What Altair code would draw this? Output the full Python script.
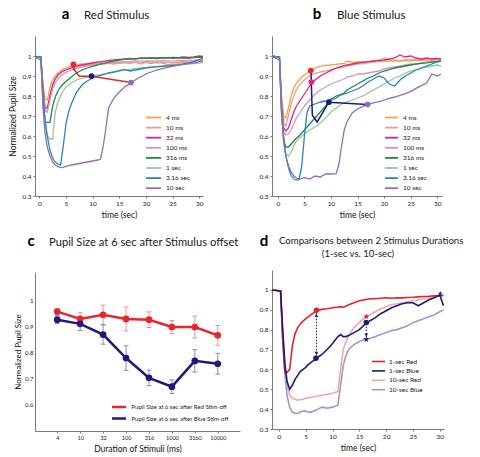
import altair as alt
import pandas as pd

FONT = "Lato"
RED = "#e8262b"
NAVY = "#1d1b7a"
PURPLE = "#8a6fbd"
STAR = ("M0,-1L0.2245,-0.309L0.951,-0.309L0.363,0.118L0.588,0.809L0,0.382L-0.588,0.809"
        "L-0.363,0.118L-0.951,-0.309L-0.2245,-0.309Z")

# ---------------- shared time grid (sec) ----------------
T = [-1.5, 0.3, 0.7, 1.1, 1.5, 2, 2.5, 3, 3.5, 4, 4.5, 5, 5.5,
     6, 7, 8, 9, 10, 11, 11.5, 12, 12.5,
     13, 14, 15, 16, 17, 18, 19, 20, 21, 22, 23, 24, 25, 26, 27, 28, 29, 30, 30.7]

DURATIONS = ["4 ms", "10 ms", "32 ms", "100 ms", "316 ms", "1 sec", "3.16 sec", "10 sec"]
DUR_COLORS = ["#f2a23c", "#d9a596", "#e8237c", "#cf97c6", "#1e8a45", "#98c695", "#2a86b6", "#8a6fbd"]

# ---------------- panel a : red stimulus ----------------
A_4MS = [1.0, 0.995, 0.86, 0.785, 0.78, 0.84, 0.88, 0.90, 0.915, 0.925, 0.935, 0.94, 0.945,
         0.95, 0.957, 0.96, 0.962, 0.965, 0.962, 0.965, 0.96, 0.963,
         0.965, 0.96, 0.965, 0.968, 0.962, 0.97, 0.96, 0.968, 0.962, 0.97, 0.965, 0.958, 0.955, 0.962, 0.968, 0.965, 0.972, 0.978, 0.975]
A_10MS = [1.0, 0.995, 0.83, 0.725, 0.72, 0.80, 0.855, 0.885, 0.905, 0.92, 0.93, 0.935, 0.94,
          0.945, 0.95, 0.952, 0.955, 0.958, 0.96, 0.962, 0.96, 0.963,
          0.962, 0.965, 0.963, 0.967, 0.965, 0.968, 0.966, 0.97, 0.968, 0.965, 0.97, 0.968, 0.965, 0.97, 0.972, 0.968, 0.975, 0.978, 0.972]
A_32MS = [1.0, 0.995, 0.84, 0.74, 0.74, 0.80, 0.855, 0.885, 0.905, 0.915, 0.925, 0.93, 0.935,
          0.94, 0.948, 0.955, 0.96, 0.965, 0.97, 0.97, 0.973, 0.975,
          0.978, 0.98, 0.983, 0.985, 0.988, 0.985, 0.99, 0.988, 0.99, 0.987, 0.99, 0.992, 0.988, 0.99, 0.99, 0.988, 0.992, 0.995, 0.99]
A_100MS = [1.0, 0.995, 0.82, 0.725, 0.72, 0.78, 0.835, 0.865, 0.885, 0.90, 0.91, 0.918, 0.925,
           0.93, 0.938, 0.944, 0.95, 0.955, 0.958, 0.96, 0.962, 0.964,
           0.966, 0.968, 0.97, 0.972, 0.973, 0.975, 0.974, 0.976, 0.975, 0.974, 0.977, 0.976, 0.974, 0.977, 0.978, 0.976, 0.979, 0.982, 0.98]
A_316MS = [1.0, 0.995, 0.79, 0.67, 0.668, 0.668, 0.75, 0.795, 0.825, 0.845, 0.86, 0.872, 0.884,
           0.895, 0.915, 0.93, 0.94, 0.948, 0.955, 0.96, 0.963, 0.966,
           0.97, 0.975, 0.98, 0.983, 0.985, 0.987, 0.988, 0.99, 0.99, 0.99, 0.992, 0.99, 0.993, 0.992, 0.995, 0.993, 0.996, 1.0, 0.998]
A_1SEC = [1.0, 0.995, 0.78, 0.66, 0.60, 0.585, 0.585, 0.72, 0.77, 0.80, 0.825, 0.845, 0.855,
          0.865, 0.88, 0.888, 0.895, 0.90, 0.905, 0.907, 0.91, 0.912,
          0.915, 0.92, 0.925, 0.93, 0.933, 0.937, 0.94, 0.943, 0.946, 0.948, 0.95, 0.952, 0.954, 0.956, 0.958, 0.96, 0.962, 0.965, 0.968]
A_3SEC = [1.0, 0.995, 0.80, 0.68, 0.60, 0.53, 0.49, 0.47, 0.46, 0.455, 0.55, 0.66, 0.72,
          0.76, 0.82, 0.855, 0.875, 0.89, 0.90, 0.903, 0.907, 0.91,
          0.915, 0.92, 0.927, 0.932, 0.925, 0.93, 0.935, 0.94, 0.943, 0.946, 0.948, 0.95, 0.953, 0.956, 0.96, 0.965, 0.972, 0.982, 0.99]
A_10SEC = [1.0, 0.98, 0.74, 0.61, 0.545, 0.50, 0.47, 0.455, 0.447, 0.442, 0.443, 0.448, 0.452,
           0.455, 0.46, 0.465, 0.47, 0.475, 0.48, 0.485, 0.55, 0.64,
           0.74, 0.79, 0.82, 0.845, 0.862, 0.88, 0.895, 0.91, 0.92, 0.93, 0.937, 0.943, 0.948, 0.953, 0.958, 0.962, 0.966, 0.972, 0.976]

# ---------------- panel b : blue stimulus ----------------
B_4MS = [1.0, 0.995, 0.80, 0.70, 0.69, 0.74, 0.80, 0.84, 0.865, 0.88, 0.895, 0.905, 0.915,
         0.922, 0.94, 0.948, 0.953, 0.956, 0.958, 0.96, 0.962, 0.963,
         0.975, 0.968, 0.97, 0.972, 0.97, 0.973, 0.972, 0.975, 0.974, 0.976, 0.975, 0.977, 0.976, 0.978, 0.977, 0.979, 0.98, 0.98, 0.98]
B_10MS = [1.0, 0.995, 0.78, 0.665, 0.65, 0.70, 0.76, 0.80, 0.83, 0.853, 0.868, 0.88, 0.89,
          0.90, 0.912, 0.92, 0.926, 0.932, 0.938, 0.94, 0.943, 0.946,
          0.95, 0.955, 0.96, 0.962, 0.966, 0.97, 0.975, 0.99, 0.978, 0.98, 0.976, 0.982, 0.98, 0.985, 0.98, 0.984, 0.985, 0.988, 0.982]
B_32MS = [1.0, 0.995, 0.76, 0.64, 0.625, 0.64, 0.68, 0.72, 0.75, 0.77, 0.79, 0.81, 0.83,
          0.85, 0.88, 0.90, 0.915, 0.928, 0.94, 0.944, 0.948, 0.952,
          0.955, 0.96, 0.965, 0.968, 0.972, 0.975, 0.978, 0.98, 0.985, 0.99, 1.005, 0.995, 1.0, 0.99, 0.985, 0.99, 0.985, 0.988, 0.985]
B_100MS = [1.0, 0.995, 0.74, 0.62, 0.605, 0.61, 0.63, 0.66, 0.69, 0.71, 0.73, 0.75, 0.765,
           0.78, 0.81, 0.83, 0.845, 0.86, 0.87, 0.875, 0.88, 0.885,
           0.895, 0.90, 0.91, 0.91, 0.915, 0.92, 0.925, 0.935, 0.94, 0.945, 0.95, 0.955, 0.96, 0.96, 0.965, 0.97, 0.97, 0.975, 0.975]
B_316MS = [1.0, 0.995, 0.72, 0.58, 0.545, 0.545, 0.56, 0.575, 0.59, 0.60, 0.615, 0.63, 0.645,
           0.66, 0.69, 0.72, 0.75, 0.785, 0.80, 0.805, 0.81, 0.815,
           0.83, 0.845, 0.86, 0.875, 0.89, 0.90, 0.915, 0.925, 0.932, 0.94, 0.945, 0.95, 0.955, 0.96, 0.963, 0.966, 0.97, 0.972, 0.975]
B_1SEC = [1.0, 0.995, 0.70, 0.56, 0.51, 0.50, 0.52, 0.55, 0.575, 0.59, 0.60, 0.61, 0.62,
          0.63, 0.645, 0.665, 0.69, 0.72, 0.74, 0.75, 0.76, 0.765,
          0.77, 0.78, 0.79, 0.80, 0.815, 0.83, 0.845, 0.86, 0.875, 0.89, 0.90, 0.915, 0.925, 0.93, 0.94, 0.945, 0.95, 0.955, 0.95]
B_3SEC = [1.0, 0.995, 0.72, 0.58, 0.50, 0.45, 0.42, 0.40, 0.39, 0.385, 0.45, 0.60, 0.72,
          0.75, 0.76, 0.77, 0.775, 0.78, 0.79, 0.80, 0.805, 0.81,
          0.815, 0.825, 0.835, 0.85, 0.87, 0.885, 0.90, 0.89, 0.86, 0.85, 0.88, 0.90, 0.915, 0.93, 0.94, 0.95, 0.96, 0.97, 0.975]
B_10SEC = [1.0, 0.98, 0.74, 0.60, 0.50, 0.44, 0.40, 0.385, 0.38, 0.382, 0.388, 0.392, 0.388,
           0.385, 0.40, 0.395, 0.41, 0.41, 0.412, 0.46, 0.55, 0.63,
           0.67, 0.715, 0.735, 0.748, 0.758, 0.766, 0.772, 0.78, 0.788, 0.795, 0.803, 0.812, 0.822, 0.838, 0.852, 0.865, 0.91, 0.90, 0.91]

# ---------------- panel c : pupil size at 6 s after offset ----------------
DUR_TICKS = ["4", "10", "32", "100", "316", "1000", "3160", "10000"]
RED_AT6 = [0.958, 0.930, 0.946, 0.930, 0.927, 0.899, 0.899, 0.867]
BLUE_AT6 = [0.927, 0.911, 0.870, 0.780, 0.704, 0.670, 0.769, 0.758]
RED_ERR = [0.012, 0.025, 0.037, 0.046, 0.030, 0.025, 0.042, 0.038]
BLUE_ERR = [0.015, 0.025, 0.037, 0.047, 0.030, 0.026, 0.043, 0.040]
C_SERIES = ["Pupil Size at 6 sec after Red Stim-off", "Pupil Size at 6 sec after Blue Stim-off"]

A_LINK_T = [6.4, 6.45, 6.5, 6.55, 6.7, 7.5, 9.8, 17.2]
B_LINK_T = [6.2, 6.25, 6.3, 6.4, 6.5, 7.4, 9.6, 16.9]
A_MARK_T = [6.4, 9.8, 17.2]
A_MARK_V = [0.958, 0.899, 0.867]
A_MARK_COL = [RED, NAVY, PURPLE]
B_MARK_T = [6.2, 6.3, 9.6, 16.9]
B_MARK_V = [0.927, 0.870, 0.769, 0.758]
B_MARK_COL = [RED, "#e8237c", NAVY, PURPLE]

# ---------------- panel d : 1-sec vs 10-sec ----------------
D_SERIES = ["1-sec Red", "1-sec Blue", "10-sec Red", "10-sec Blue"]
D_COLORS = ["#e3232b", "#1c1c78", "#f4a6a6", "#9b9bd0"]
D_WIDTHS = [1.6, 1.6, 3.6, 3.6]
D_1S_RED = [1.0, 0.995, 0.75, 0.585, 0.585, 0.60, 0.72, 0.78, 0.81, 0.83, 0.843, 0.855, 0.865,
            0.875, 0.895, 0.902, 0.905, 0.91, 0.913, 0.915, 0.913, 0.918,
            0.925, 0.935, 0.945, 0.95, 0.955, 0.955, 0.958, 0.96, 0.958, 0.96, 0.96, 0.962, 0.963, 0.965, 0.967, 0.968, 0.97, 0.97, 0.972]
D_1S_BLUE = [1.0, 0.995, 0.80, 0.63, 0.54, 0.50, 0.52, 0.55, 0.57, 0.59, 0.60, 0.61, 0.625,
             0.635, 0.655, 0.675, 0.70, 0.73, 0.765, 0.775, 0.765, 0.765,
             0.77, 0.785, 0.80, 0.825, 0.845, 0.86, 0.88, 0.895, 0.91, 0.92, 0.93, 0.935, 0.935, 0.92, 0.935, 0.95, 0.96, 0.975, 0.92]
D_10S_RED = [1.0, 0.995, 0.78, 0.62, 0.52, 0.47, 0.455, 0.45, 0.445, 0.448, 0.45, 0.455, 0.458,
             0.46, 0.465, 0.47, 0.475, 0.48, 0.488, 0.60, 0.70, 0.74,
             0.77, 0.81, 0.835, 0.86, 0.875, 0.89, 0.905, 0.915, 0.925, 0.93, 0.935, 0.94, 0.945, 0.95, 0.955, 0.96, 0.965, 0.97, 0.975]
D_10S_BLUE = [1.0, 0.995, 0.75, 0.58, 0.47, 0.41, 0.385, 0.38, 0.378, 0.385, 0.39, 0.39, 0.385,
              0.385, 0.395, 0.41, 0.405, 0.41, 0.42, 0.52, 0.62, 0.67,
              0.70, 0.725, 0.74, 0.75, 0.755, 0.765, 0.775, 0.785, 0.795, 0.80, 0.81, 0.82, 0.835, 0.845, 0.855, 0.865, 0.875, 0.89, 0.90]
D_MARK_T = [7.0, 6.9, 16.3, 16.3, 16.3, 30.1]
D_MARK_V = [0.898, 0.656, 0.866, 0.836, 0.751, 0.982]
D_MARK_COL = ["#e3232b", "#1c1c78", "#e3232b", "#1c1c78", "#1c1c78", "#1c1c78"]
D_MARK_SHAPE = ["circle", "circle", STAR, "circle", STAR, STAR]
D_MARK_SIZE = [30, 30, 45, 30, 45, 28]
D_ARROW_T = [7.0, 16.3]
D_ARROW_TOP = [0.885, 0.83]
D_ARROW_BOT = [0.668, 0.762]
D_HEAD_T = [7.0, 7.0, 16.3]
D_HEAD_V = [0.872, 0.68, 0.772]
D_HEAD_SHAPE = ["triangle-up", "triangle-down", "triangle-down"]

TIME_TICKS = [0, 5, 10, 15, 20, 25, 30]
PUPIL_TICKS = [0.3, 0.4, 0.5, 0.6, 0.7, 0.8, 0.9, 1.0]

H_TOP = 160   # plot height, panels a/b
H_BOT = 159   # plot height, panels c/d


def long_df(names, series):
    rows = []
    for n, vals in zip(names, series):
        for t, v in zip(T, vals):
            rows.append({"t": t, "v": v, "s": n})
    return pd.DataFrame(rows)


def text_layer(txt, x, y, size, bold=False, align="left"):
    return alt.Chart(pd.DataFrame({"lab": [txt]})).mark_text(
        font=FONT, fontSize=size, fontWeight="bold" if bold else "normal", align=align,
        baseline="alphabetic", color="#000" if bold else "#1a1a1a"
    ).encode(text="lab:N", x=alt.value(x), y=alt.value(y))


def time_panel(series, link_t, link_v, link_col, mk_t, mk_v, mk_col, xdom, w, title, dx,
               letter, letter_x, leg_x, leg_path, leg_off, ytitle):
    x_axis = alt.Axis(values=TIME_TICKS, title="time (sec)", titlePadding=4)
    y_axis = alt.Axis(values=PUPIL_TICKS, format="~g", title=ytitle, labelPadding=2, titlePadding=4)
    xs = alt.Scale(domain=xdom, nice=False, zero=False)
    ys = alt.Scale(domain=[0.3, 1.1], nice=False, zero=False)
    X = alt.X("t:Q", scale=xs, axis=x_axis)
    Y = alt.Y("v:Q", scale=ys, axis=y_axis)
    legend = alt.Legend(title=None, orient="none", legendX=leg_x, legendY=76, symbolType=leg_path,
                        symbolSize=81, symbolStrokeWidth=1.8, labelOffset=leg_off, rowPadding=0.1,
                        labelFontSize=6.5, padding=0)
    lines = alt.Chart(long_df(DURATIONS, series)).mark_line(strokeWidth=1.3, clip=True).encode(
        x=X, y=Y,
        color=alt.Color("s:N", scale=alt.Scale(domain=DURATIONS, range=DUR_COLORS), legend=legend))
    link = alt.Chart(pd.DataFrame({"t": link_t, "v": link_v, "i": list(range(len(link_t)))})).mark_line(
        color=link_col, strokeWidth=1.5).encode(x=X, y=Y, order="i:Q")
    marks = alt.Chart(pd.DataFrame({"t": mk_t, "v": mk_v, "c": mk_col})).mark_point(
        filled=True, size=32, opacity=1).encode(x=X, y=Y, fill=alt.Fill("c:N", scale=None))
    return alt.layer(lines, link, marks,
                     text_layer(letter, letter_x, -17, 15, bold=True, align="center"),
                     text_layer(title, dx, -17, 11.5)).properties(width=w, height=H_TOP)


panel_a = time_panel([A_4MS, A_10MS, A_32MS, A_100MS, A_316MS, A_1SEC, A_3SEC, A_10SEC],
                     A_LINK_T, RED_AT6, RED, A_MARK_T, A_MARK_V, A_MARK_COL,
                     [-0.8, 30.7], 168, "Red Stimulus", 49, "a", 30.5, 113, "M-1.667,0H1.667", 7,
                     "Normalized Pupil Size")
panel_b = time_panel([B_4MS, B_10MS, B_32MS, B_100MS, B_316MS, B_1SEC, B_3SEC, B_10SEC],
                     B_LINK_T, BLUE_AT6, NAVY, B_MARK_T, B_MARK_V, B_MARK_COL,
                     [-1.1, 30.9], 170, "Blue Stimulus", 65, "b", 45, 114, "M-1.444,0H1.444", 6,
                     None)

# ---------------- panel c ----------------
c_df = pd.DataFrame({
    "dur": DUR_TICKS + DUR_TICKS,
    "v": RED_AT6 + BLUE_AT6,
    "err": RED_ERR + BLUE_ERR,
    "s": [C_SERIES[0]] * 8 + [C_SERIES[1]] * 8,
    "i": list(range(8)) * 2,
})
c_df["lo"] = c_df["v"] - c_df["err"]
c_df["hi"] = c_df["v"] + c_df["err"]

cx = alt.X("dur:N", sort=DUR_TICKS, scale=alt.Scale(type="point", padding=0.97),
           axis=alt.Axis(title="Duration of Stimuli (ms)", labelAngle=0, labelFontSize=5.5, titlePadding=4))
c_yscale = alt.Scale(domain=[0.5, 1.11], nice=False, zero=False)
c_yaxis = alt.Axis(values=[0.6, 0.7, 0.8, 0.9, 1.0], format="~g", title="Normalized Pupil Size",
                   ticks=False, labelPadding=2, titlePadding=2, labelFontSize=6, titleFontSize=8)


def cy(field):
    return alt.Y(field + ":Q", scale=c_yscale, axis=c_yaxis)


c_legend = alt.Legend(title=None, orient="none", legendX=78, legendY=129, symbolType="M-1.55,0H1.55",
                      symbolSize=81, symbolStrokeWidth=2.5, labelOffset=6.5, rowPadding=0.5,
                      labelFontSize=6, padding=0)
c_color_scale = alt.Scale(domain=C_SERIES, range=[RED, NAVY])
c_layers = []
for name, col in zip(C_SERIES, ["#f07a7a", "#7070b0"]):
    base = alt.Chart(c_df).transform_filter(alt.datum.s == name)
    c_layers.append(base.mark_rule(color=col, strokeWidth=1, opacity=0.8).encode(x=cx, y=cy("lo"), y2="hi:Q"))
    c_layers.append(base.mark_tick(color=col, size=5, thickness=1, opacity=0.8).encode(x=cx, y=cy("lo")))
    c_layers.append(base.mark_tick(color=col, size=5, thickness=1, opacity=0.8).encode(x=cx, y=cy("hi")))
c_lines = alt.Chart(c_df).mark_line(strokeWidth=2.5).encode(
    x=cx, y=cy("v"), order="i:Q", color=alt.Color("s:N", scale=c_color_scale, legend=c_legend))
c_points = alt.Chart(c_df).mark_point(filled=True, size=45, opacity=1).encode(
    x=cx, y=cy("v"), color=alt.Color("s:N", scale=c_color_scale, legend=None))
panel_c = alt.layer(*c_layers, c_lines, c_points,
                    text_layer("c", -4, -26, 15, bold=True, align="center"),
                    text_layer("Pupil Size at 6 sec after Stimulus offset", 14, -26, 11.2)).properties(
    width=205, height=H_BOT)

# ---------------- panel d ----------------
d_df = long_df(D_SERIES, [D_1S_RED, D_1S_BLUE, D_10S_RED, D_10S_BLUE])
d_xscale = alt.Scale(domain=[-1.3, 30.8], nice=False, zero=False)
d_yscale = alt.Scale(domain=[0.3, 1.1], nice=False, zero=False)
d_xaxis = alt.Axis(values=TIME_TICKS, title="time (sec)", titlePadding=4)
d_yaxis = alt.Axis(values=PUPIL_TICKS, format="~g", title=None, labelPadding=2)
DX = alt.X("t:Q", scale=d_xscale, axis=d_xaxis)


def dy(field):
    return alt.Y(field + ":Q", scale=d_yscale, axis=d_yaxis)


d_legend = alt.Legend(title=None, orient="none", legendX=101, legendY=86, symbolType="M-1.45,0H1.45",
                      symbolSize=81, labelOffset=5, rowPadding=0.4, labelFontSize=6.5, padding=0)
d_color = alt.Color("s:N", scale=alt.Scale(domain=D_SERIES, range=D_COLORS), legend=d_legend)
d_width = alt.StrokeWidth("s:N", scale=alt.Scale(domain=D_SERIES, range=D_WIDTHS), legend=d_legend)
d_thick = alt.Chart(d_df).transform_filter(alt.FieldOneOfPredicate(field="s", oneOf=D_SERIES[2:])).mark_line(
    clip=True).encode(x=DX, y=dy("v"), color=d_color, strokeWidth=d_width)
d_thin = alt.Chart(d_df).transform_filter(alt.FieldOneOfPredicate(field="s", oneOf=D_SERIES[:2])).mark_line(
    clip=True).encode(x=DX, y=dy("v"), color=d_color, strokeWidth=d_width)
d_arrows = alt.Chart(pd.DataFrame({"t": D_ARROW_T, "top": D_ARROW_TOP, "bot": D_ARROW_BOT})).mark_rule(
    color=NAVY, strokeWidth=1, strokeDash=[1.5, 1.5]).encode(x=DX, y=dy("top"), y2="bot:Q")
d_heads = alt.Chart(pd.DataFrame({"t": D_HEAD_T, "v": D_HEAD_V, "sh": D_HEAD_SHAPE})).mark_point(
    filled=True, size=14, opacity=1, color=NAVY).encode(x=DX, y=dy("v"), shape=alt.Shape("sh:N", scale=None))
d_marks = alt.Chart(pd.DataFrame({"t": D_MARK_T, "v": D_MARK_V, "c": D_MARK_COL, "sh": D_MARK_SHAPE,
                                  "sz": D_MARK_SIZE})).mark_point(filled=True, opacity=1).encode(
    x=DX, y=dy("v"), fill=alt.Fill("c:N", scale=None), shape=alt.Shape("sh:N", scale=None),
    size=alt.Size("sz:Q", scale=None))
panel_d = alt.layer(d_thick, d_thin, d_arrows, d_heads, d_marks,
                    text_layer("d", -8, -24, 15, bold=True, align="center"),
                    text_layer("Comparisons between 2 Stimulus Durations", 7, -26, 9.6),
                    text_layer("(1-sec vs. 10-sec)", 86, -13, 9.6, align="center")).properties(
    width=172, height=H_BOT)

# ---------------- layout: one 2x2 flow grid ----------------
chart = alt.concat(
    panel_a, panel_b, panel_c, panel_d,
    columns=2, align="none", spacing={"row": 15, "column": 18},
).resolve_scale(color="independent", strokeWidth="independent").resolve_legend(
    color="independent", strokeWidth="independent"
).properties(
    padding={"left": 0, "top": -1, "right": 0, "bottom": 0}
).configure(font=FONT).configure_view(
    stroke=None
).configure_axis(
    domainColor="#7a7a7a", tickColor="#7a7a7a", domainWidth=1, labelFont=FONT, labelFontSize=6.5,
    labelColor="#222", titleFont=FONT, titleFontSize=8.5, titleFontWeight="normal", titleColor="#111",
    grid=False, tickSize=2, labelPadding=2
).configure_legend(
    labelFont=FONT, labelFontSize=6.5, labelColor="#222"
)

chart.save("out.html", embed_options={"renderer": "svg", "actions": False})
